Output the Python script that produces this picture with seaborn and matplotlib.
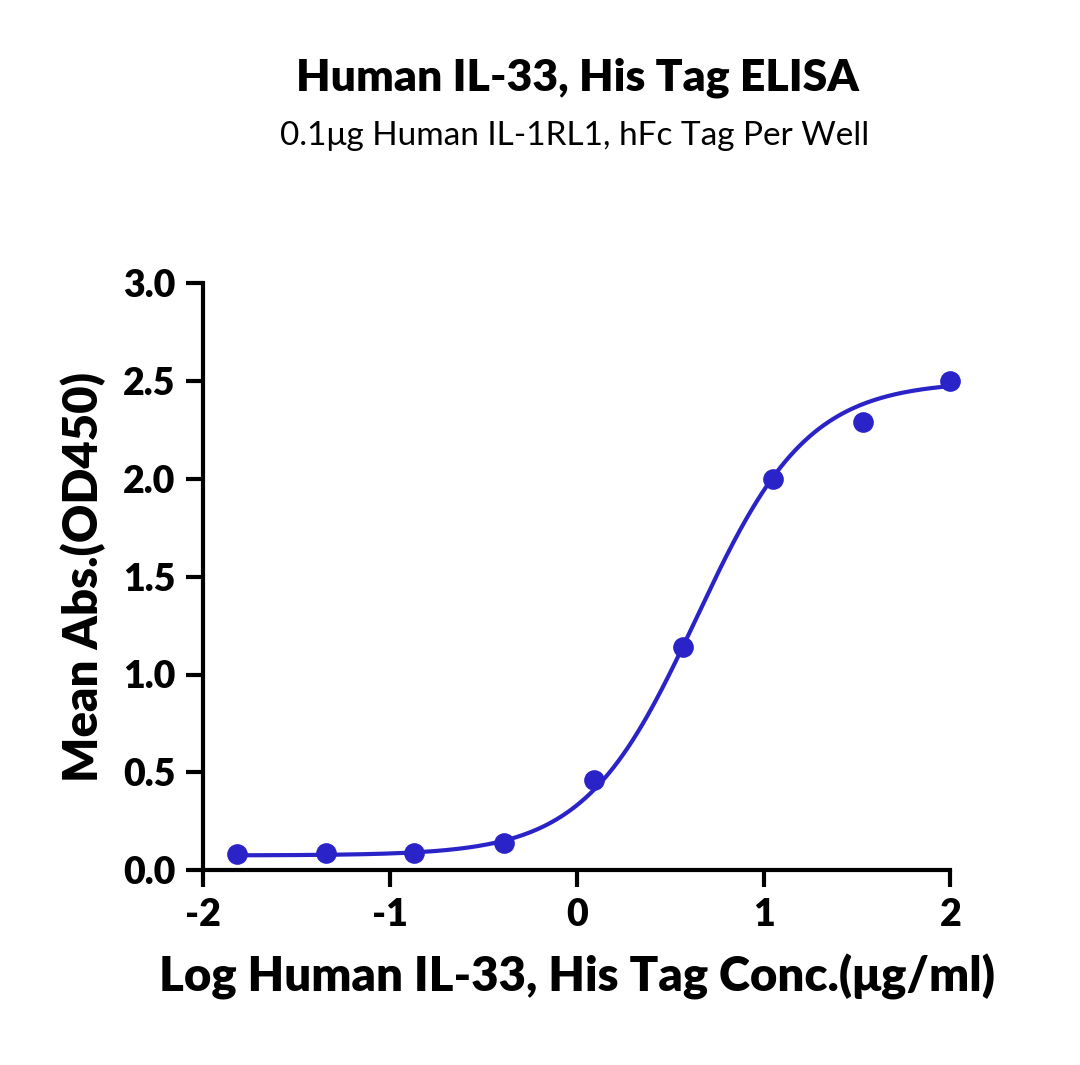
import numpy as np
import matplotlib
matplotlib.use("Agg")
import matplotlib.pyplot as plt
import seaborn as sns

log_conc = [-1.82, -1.34, -0.87, -0.39, 0.09, 0.57, 1.05, 1.53, 2.0]
mean_abs = [0.08, 0.085, 0.085, 0.14, 0.46, 1.14, 2.0, 2.29, 2.5]
# 4PL fit parameters (bottom, top, logEC50, hill)
fit_bottom, fit_top, fit_ec50, fit_hill = 0.075, 2.50, 0.64, 1.45
x_ticks = [-2, -1, 0, 1, 2]
x_ticklabels = ["-2", "-1", "0", "1", "2"]
y_ticks = [0, 0.5, 1.0, 1.5, 2.0, 2.5, 3.0]
y_ticklabels = ["0.0", "0.5", "1.0", "1.5", "2.0", "2.5", "3.0"]

sns.set_theme(style="ticks")
plt.rcParams['font.family'] = ['Lato', 'DejaVu Sans']
plt.rcParams['text.color'] = 'black'
color = "#2a24c8"

fig = plt.figure(figsize=(10.8, 10.65), dpi=100)
ax = fig.add_axes([0.188, 0.183, 0.692, 0.551])

xs = np.linspace(-1.82, 2.0, 300)
ys = fit_bottom + (fit_top - fit_bottom) / (1 + 10 ** ((fit_ec50 - xs) * fit_hill))
sns.lineplot(x=xs, y=ys, ax=ax, color=color, linewidth=3)
sns.scatterplot(x=log_conc, y=mean_abs, ax=ax, color=color, s=190, edgecolor=color, zorder=5, clip_on=False)

ax.set_xlim(-2, 2)
ax.set_ylim(0, 3.0)
ax.set_xticks(x_ticks)
ax.set_xticklabels(x_ticklabels)
ax.set_yticks(y_ticks)
ax.set_yticklabels(y_ticklabels)
for s in ["top", "right"]:
    ax.spines[s].set_visible(False)
for s in ["left", "bottom"]:
    ax.spines[s].set_linewidth(3)
    ax.spines[s].set_color("black")
ax.tick_params(width=3, length=12, labelsize=27, colors="black", pad=8)
for lab in ax.get_xticklabels() + ax.get_yticklabels():
    lab.set_fontweight("heavy")
ax.set_xlabel("Log Human IL-33, His Tag Conc.(μg/ml)", fontsize=34, fontweight="heavy", labelpad=16, color="black")
ax.set_ylabel("Mean Abs.(OD450)", fontsize=34, fontweight="heavy", labelpad=12, color="black")

fig.text(0.535, 0.927, "Human IL-33, His Tag ELISA", ha="center", va="center", fontsize=32, fontweight="heavy", color="black")
fig.text(0.532, 0.872, "0.1μg Human IL-1RL1, hFc Tag Per Well", ha="center", va="center", fontsize=24, color="black")

fig.savefig("out.png", dpi=100)
